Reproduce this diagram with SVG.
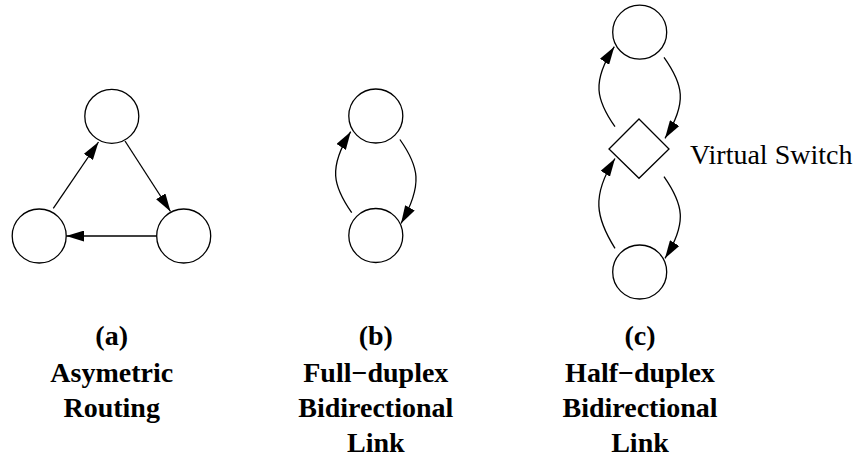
<svg xmlns="http://www.w3.org/2000/svg" width="860" height="457" viewBox="0 0 860 457">
  <defs>
    <marker id="arrow" viewBox="0 0 18 11" refX="18" refY="5.5" markerWidth="18" markerHeight="11" markerUnits="userSpaceOnUse" orient="auto">
      <path d="M0,0 L18,5.5 L0,11 Z" fill="#000000"/>
    </marker>
  </defs>
  <rect width="860" height="457" fill="#ffffff"/>

  <g id="nodes" fill="#ffffff" stroke="#000000" stroke-width="1.3">
    <g id="a-top"><circle cx="111.8" cy="116.3" r="27"/></g>
    <g id="a-left"><circle cx="39.2" cy="236" r="27"/></g>
    <g id="a-right"><circle cx="183.7" cy="236" r="27"/></g>
    <g id="b-top"><circle cx="375.8" cy="116" r="27"/></g>
    <g id="b-bottom"><circle cx="375.8" cy="235.5" r="27"/></g>
    <g id="c-top"><circle cx="639.7" cy="32.2" r="27"/></g>
    <g id="c-switch"><polygon points="639,119 669,149 639,178.3 609,149"/></g>
    <g id="c-bottom"><circle cx="639.7" cy="272" r="27"/></g>
  </g>

  <g id="connectors" fill="none" stroke="#000000" stroke-width="1.3" marker-end="url(#arrow)">
    <line x1="53.3" y1="208.3" x2="98.5" y2="142"/>
    <line x1="125" y1="141" x2="170.5" y2="211.5"/>
    <line x1="156.7" y1="236" x2="66.2" y2="236"/>
    <path d="M351.7,212.7 C333,186 328,168 350.7,131.7"/>
    <path d="M399.9,139.5 C418.6,166 423.6,184 401,223.5"/>
    <path d="M615,126.7 C596.3,100 591.3,82 614.3,46.7"/>
    <path d="M664,57.3 C683,84 688,102 665,138.3"/>
    <path d="M615,248.3 C596,218 591,196 615,158.5"/>
    <path d="M664,176.7 C683,204 688,222 665,258.3"/>
  </g>

  <text x="690" y="164.3" font-size="28" fill="#000000" style="font-family: 'Times New Roman', 'Liberation Serif', serif">Virtual Switch</text>

  <g id="captions" font-size="28" text-anchor="middle" fill="#000000" style="font-family: 'Times New Roman', 'Liberation Serif', serif; font-weight: bold">
    <text x="111.7" y="345">(a)</text>
    <text x="111.7" y="381.5">Asymetric</text>
    <text x="111.7" y="416.5">Routing</text>
    <text x="375.8" y="345">(b)</text>
    <text x="375.8" y="381.5">Full−duplex</text>
    <text x="375.8" y="416.5">Bidirectional</text>
    <text x="375.8" y="451.5">Link</text>
    <text x="640" y="345">(c)</text>
    <text x="640" y="381.5">Half−duplex</text>
    <text x="640" y="416.5">Bidirectional</text>
    <text x="640" y="451.5">Link</text>
  </g>
</svg>
